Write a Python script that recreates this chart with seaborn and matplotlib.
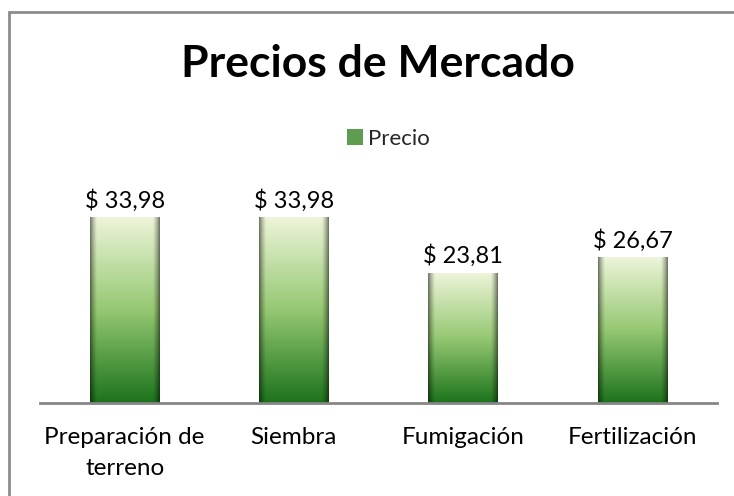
import numpy as np
import pandas as pd
import seaborn as sns
import matplotlib.pyplot as plt
from matplotlib.patches import Patch, Rectangle

categories = ["Preparación de\nterreno", "Siembra", "Fumigación", "Fertilización"]
precios = [33.98, 33.98, 23.81, 26.67]
etiquetas = ["$ 33,98", "$ 33,98", "$ 23,81", "$ 26,67"]

sns.set_style("white")
plt.rcParams["font.family"] = ["Lato", "DejaVu Sans"]

fig = plt.figure(figsize=(7.34, 4.96), dpi=100)
ax = fig.add_axes([0.0545, 0.1875, 0.9225, 0.4415])

df = pd.DataFrame({"cat": categories, "precio": precios})
sns.barplot(data=df, x="cat", y="precio", width=0.41, ax=ax, color="#3c8c3c")
ax.set_ylim(0, 40)
xlim = ax.get_xlim()

# gradient fill: light top, dark green bottom, darker sides
top = np.array([238, 245, 218]) / 255
mid = np.array([150, 200, 115]) / 255
bot = np.array([28, 115, 28]) / 255
n = 200
t = np.linspace(0, 1, n)[:, None]  # 0 = top, 1 = bottom
col = np.where(t < 0.5, top + (mid - top) * (t / 0.5), mid + (bot - mid) * ((t - 0.5) / 0.5))
xs = np.linspace(-1, 1, 60)
shade = 1 - 0.5 * np.clip((np.abs(xs) - 0.8) / 0.2, 0, 1) ** 1.5
img = col[:, None, :] * shade[None, :, None]

for p in ax.patches:
    x, w, h = p.get_x(), p.get_width(), p.get_height()
    p.set_facecolor("none")
    p.set_edgecolor("none")
    im = ax.imshow(img, extent=[x, x + w, 0, h], aspect="auto", zorder=2, origin="upper")
    im.set_clip_path(p)

ax.set_xlim(xlim)
ax.set_ylim(0, 40)

for i, v in enumerate(precios):
    ax.text(i, v + 1.0, etiquetas[i], ha="center", va="bottom", fontsize=17, color="black")

ax.set_xlabel("")
ax.set_ylabel("")
ax.set_yticks([])
ax.tick_params(axis="x", length=0, labelsize=17.5, pad=17, colors="black")
for lab in ax.get_xticklabels():
    lab.set_linespacing(1.6)
for s in ["top", "left", "right"]:
    ax.spines[s].set_visible(False)
ax.spines["bottom"].set_color("#868686")
ax.spines["bottom"].set_linewidth(2)

fig.text(0.515, 1 - 77 / 496, "Precios de Mercado", ha="center", va="baseline",
         fontsize=32, fontweight="bold", color="black")

handle = Patch(facecolor="#5d9d4f", edgecolor="none", label="Precio")
fig.legend(handles=[handle], loc="center", bbox_to_anchor=(388 / 734, 1 - 139 / 496),
           frameon=False, fontsize=16, handlelength=0.75, handleheight=0.75, handletextpad=0.2)

fig.patches.append(Rectangle((9 / 734, -0.1), 1.2, 1.1 - 12 / 496, transform=fig.transFigure,
                             fill=False, edgecolor="#8c8c8c", linewidth=2))

fig.savefig("out.png", dpi=100)
